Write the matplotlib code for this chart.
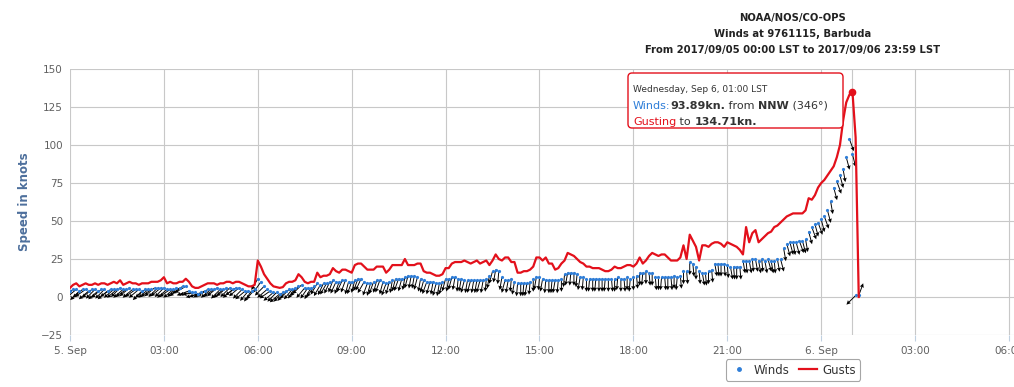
import numpy as np
import matplotlib.pyplot as plt
from matplotlib.lines import Line2D
from matplotlib.patches import FancyBboxPatch

# 6-minute readings starting 2017/09/05 00:00 LST, one row per hour
gusts = [
    6, 8, 9, 7, 8, 9, 8, 8, 9, 8,
    9, 9, 8, 9, 10, 9, 11, 8, 9, 10,
    9, 9, 8, 9, 9, 9, 10, 10, 10, 11,
    13, 9, 10, 9, 9, 10, 10, 12, 10, 7,
    6, 6, 7, 8, 9, 9, 9, 8, 9, 9,
    10, 10, 9, 10, 10, 9, 8, 7, 7, 8,
    24, 20, 15, 12, 9, 7, 6.5, 6, 6.5, 9,
    10, 10, 11, 15, 13, 10, 9, 10, 10, 16,
    13, 14, 14, 15, 19, 17, 16, 18, 18, 17,
    16, 21, 22, 22, 20, 18, 18, 18, 20, 20,
    20, 16, 18, 21, 21, 21, 21, 25, 21, 21,
    21, 22, 22, 17, 16, 16, 15, 14, 14, 15,
    19, 19, 22, 23, 23, 23, 24, 23, 22, 23,
    24, 22, 23, 24, 21, 24, 28, 25, 24, 26,
    26, 23, 23, 16, 16, 17, 17, 18, 20, 26,
    26, 24, 26, 22, 22, 18, 19, 22, 24, 29,
    28, 27, 25, 23, 22, 20, 20, 19, 19, 19,
    18, 17, 17, 18, 20, 19, 19, 20, 21, 21,
    20, 22, 26, 22, 24, 27, 29, 28, 27, 28,
    28, 26, 24, 24, 24, 26, 34, 25, 41, 37,
    33, 24, 34, 34, 33, 35, 36, 36, 35, 33,
    36, 35, 34, 33, 31, 28, 46, 36, 42, 44,
    36, 38, 40, 42, 43, 46, 47, 49, 51, 53,
    54, 55, 55, 55, 55, 57, 65, 64, 67, 72,
    75, 77, 80, 83, 86, 92, 100, 116, 128, 133,
    134.71, 105, 0,
]

winds = [
    4, 5, 5, 4, 5, 5, 4, 5, 5, 4,
    5, 5, 4, 5, 5, 5, 6, 5, 5, 6,
    5, 5, 5, 4, 5, 5, 5, 6, 6, 6,
    6, 5, 5, 5, 6, 6, 7, 7, 4, 3,
    3, 2, 3, 4, 5, 5, 5, 6, 5, 5,
    6, 6, 5, 6, 6, 5, 4, 4, 4, 5,
    12, 10, 7, 5, 4, 3, 3, 2, 3, 4,
    5, 5, 6, 7, 8, 6, 6, 6, 7, 9,
    8, 9, 9, 10, 11, 10, 10, 11, 11, 10,
    10, 11, 12, 12, 10, 9, 9, 10, 11, 11,
    10, 9, 10, 11, 12, 12, 12, 13, 14, 14,
    14, 13, 12, 11, 10, 10, 10, 9, 9, 10,
    12, 12, 13, 13, 12, 12, 11, 11, 11, 11,
    11, 11, 11, 12, 14, 17, 18, 17, 13, 11,
    11, 12, 10, 9, 9, 9, 9, 10, 12, 13,
    13, 12, 11, 11, 11, 11, 11, 12, 15, 16,
    16, 16, 15, 13, 13, 12, 12, 12, 12, 12,
    12, 12, 12, 12, 12, 13, 12, 12, 13, 12,
    13, 14, 16, 16, 17, 16, 16, 13, 13, 13,
    13, 13, 13, 14, 13, 14, 17, 17, 23, 22,
    20, 17, 16, 16, 17, 18, 22, 22, 22, 22,
    21, 20, 20, 20, 20, 24, 24, 24, 25, 25,
    24, 25, 24, 25, 24, 24, 25, 25, 32, 35,
    36, 36, 36, 37, 37, 38, 43, 46, 48, 49,
    51, 53, 57, 63, 72, 76, 80, 84, 92, 104,
    93.89, 1, 1,
]

# direction the wind blows from, degrees
wind_dir = [
    50, 55, 50, 45, 50, 55, 50, 50, 45, 50,
    50, 45, 50, 55, 50, 50, 45, 50, 55, 50,
    50, 55, 50, 45, 50, 50, 55, 50, 45, 50,
    45, 50, 55, 50, 45, 50, 55, 60, 70, 80,
    80, 75, 70, 60, 55, 50, 55, 50, 45, 50,
    50, 45, 50, 55, 50, 45, 50, 40, 35, 40,
    30, 35, 45, 50, 55, 50, 45, 50, 45, 40,
    45, 40, 35, 40, 45, 40, 35, 30, 35, 30,
    30, 25, 30, 25, 20, 25, 20, 25, 20, 15,
    20, 15, 20, 25, 30, 20, 15, 20, 15, 20,
    15, 20, 15, 10, 15, 20, 15, 10, 15, 10,
    10, 15, 10, 15, 20, 15, 10, 15, 10, 15,
    15, 10, 15, 10, 5, 10, 15, 10, 15, 10,
    10, 15, 10, 5, 10, 15, 10, 5, 10, 15,
    10, 5, 10, 5, 0, 5, 10, 5, 0, 10,
    5, 10, 5, 0, 5, 10, 5, 0, 5, 10,
    5, 0, 5, 10, 5, 0, 5, 0, 5, 0,
    0, 5, 0, 355, 0, 5, 0, 355, 0, 5,
    0, 355, 0, 5, 0, 355, 0, 355, 0, 5,
    355, 0, 355, 0, 5, 355, 0, 355, 0, 355,
    0, 355, 350, 355, 0, 355, 350, 355, 0, 355,
    355, 350, 355, 0, 355, 350, 355, 350, 355, 350,
    350, 355, 350, 345, 350, 355, 350, 345, 350, 345,
    345, 350, 345, 340, 345, 350, 345, 340, 345, 340,
    345, 340, 345, 350, 345, 340, 345, 350, 345, 340,
    346, 45, 200,
]

x_ticks = [0, 3, 6, 9, 12, 15, 18, 21, 24, 27, 30]
x_labels = ['5. Sep', '03:00', '06:00', '09:00', '12:00', '15:00',
            '18:00', '21:00', '6. Sep', '03:00', '06:00']
y_ticks = [-25, 0, 25, 50, 75, 100, 125, 150]

blue = '#2f7ed8'
red = '#e3101b'

t = np.arange(len(gusts)) * 0.1   # hours after 5 Sep 00:00

W, H = 1014, 387
fig = plt.figure(figsize=(W / 100, H / 100), dpi=100)
ax = fig.add_axes([70 / W, 52 / H, 944 / W, 266 / H])
ax.set_xlim(0, 30.16)
ax.set_ylim(-25, 150)

for s in ax.spines.values():
    s.set_visible(False)
ax.grid(color='#c8c8c8', lw=0.8)
ax.set_axisbelow(True)
ax.set_xticks(x_ticks)
ax.set_xticklabels(x_labels)
ax.set_yticks(y_ticks)
ax.tick_params(axis='y', length=0, labelsize=7.5, colors='#606060', pad=5)
ax.tick_params(axis='x', length=4, color='#c0d0e0', labelsize=7.5,
               labelcolor='#606060', pad=4)
ax.set_ylabel('Speed in knots', fontsize=8.5, fontweight='bold', color='#4d6f9c')
ax.yaxis.set_label_coords(-39 / 944, 0.5)

# crosshair at hovered point
ax.axvline(25, color='#c8c8c8', lw=0.8, zorder=1)

# wind direction arrows from each reading
rad = np.deg2rad(wind_dir)
u = -np.sin(rad)
v = -np.cos(rad)
ax.quiver(t, winds, u, v, angles='uv', scale_units='inches', scale=1 / 0.13,
          pivot='tail', width=0.001, headwidth=4.5, headlength=4.5,
          headaxislength=4, color='black', zorder=2)
ax.plot(t, winds, 'o', ms=2.3, color=blue, mec='none', zorder=3)
ax.plot(t, gusts, color=red, lw=1.6, zorder=4)
ax.plot(t[250], gusts[250], 'o', ms=4.5, color=red, zorder=5)

# title
for txt, yy in [('NOAA/NOS/CO-OPS', 18), ('Winds at 9761115, Barbuda', 34),
                ('From 2017/09/05 00:00 LST to 2017/09/06 23:59 LST', 50)]:
    fig.text(793 / W, 1 - yy / H, txt, ha='center', va='center', fontsize=8,
             fontweight='bold', family='DejaVu Sans', fontstretch='condensed',
             color='#222222')

# tooltip
box = FancyBboxPatch((628 / W, 1 - 128 / H), 215 / W, 55 / H,
                     boxstyle='round,pad=0,rounding_size=0.004',
                     mutation_aspect=W / H, transform=fig.transFigure,
                     fc='white', ec=red, lw=1, zorder=10, clip_on=False)
ax.add_patch(box)
ax.text(633 / W, 1 - 90 / H, 'Wednesday, Sep 6, 01:00 LST', fontsize=6.5,
        va='center', color='#333333', zorder=11, transform=fig.transFigure)


def line(parts, yy):
    prev = ax.text(633 / W, 1 - yy / H, parts[0][0], color=parts[0][1],
                   fontweight=parts[0][2], fontsize=8, va='center', zorder=11,
                   transform=fig.transFigure)
    for txt, col, wt in parts[1:]:
        prev = ax.annotate(txt, xy=(1, 0), xycoords=prev, color=col,
                           fontweight=wt, fontsize=8, va='bottom', ha='left',
                           zorder=11)


line([('Winds:', blue, 'normal'), ('93.89kn.', '#333333', 'bold'),
      (' from ', '#333333', 'normal'), ('NNW', '#333333', 'bold'),
      (' (346°)', '#333333', 'normal')], 106)
line([('Gusting', red, 'normal'), (' to ', '#333333', 'normal'),
      ('134.71kn.', '#333333', 'bold')], 122)

handles = [Line2D([], [], ls='none', marker='o', ms=2.5, color=blue),
           Line2D([], [], color=red, lw=1.6)]
leg = fig.legend(handles, ['Winds', 'Gusts'], loc='center',
                 bbox_to_anchor=(793 / W, 1 - 370 / H), ncol=2, frameon=True,
                 fancybox=True, edgecolor='#909090', fontsize=8.5,
                 handlelength=1.5, columnspacing=0.8, handletextpad=0.5,
                 borderpad=0.35)
leg.get_frame().set_linewidth(0.8)
for txt in leg.get_texts():
    txt.set_color('#333333')

fig.savefig('out.png', dpi=100)
